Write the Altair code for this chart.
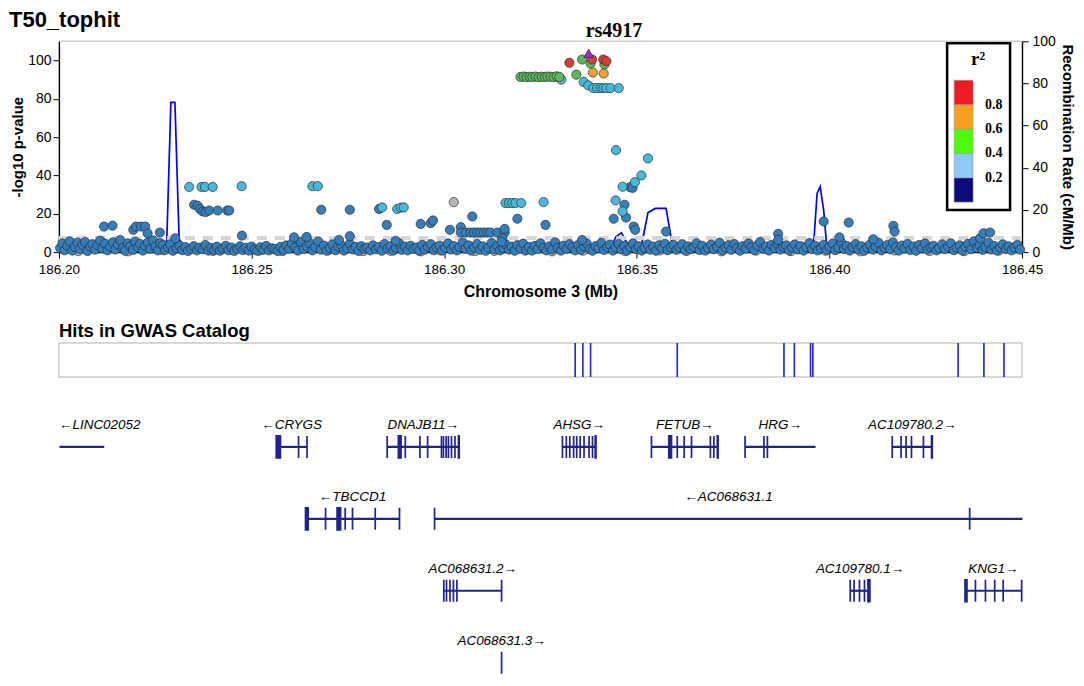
import altair as alt
import pandas as pd

START, END = 186.20, 186.45
SANS = "Liberation Sans"
SERIF = "Liberation Serif"

# ---------------- association points: (kb offset from 186.20 Mb, -log10 p) -------------
base_pts = [
    (0.3,2.1),(0.9,4.5),(1.5,1.0),(2.2,3.2),(2.8,5.6),(3.5,0.8),(4.1,2.6),(4.8,4.9),(5.4,1.6),(6.1,3.8),(6.8,5.2),(7.4,0.6),(8.1,2.9),(8.7,4.1),(9.4,1.3),
    (10.0,3.5),(10.7,6.0),(11.3,1.9),(12.0,4.4),(12.6,0.9),(13.3,2.7),(14.0,5.1),(14.6,1.4),(15.3,3.9),(15.9,6.3),(16.6,2.2),(17.2,0.7),(17.9,4.6),(18.5,3.0),(19.2,1.1),(19.8,5.4),
    (20.5,2.4),(21.1,4.2),(21.8,0.8),(22.4,3.3),(23.1,5.0),(23.7,1.7),(24.4,6.1),(25.0,2.9),(25.7,0.9),(26.3,4.7),(27.0,3.6),(27.6,1.2),(28.3,2.5),(28.9,4.0),(29.6,0.7),
    (30.5,2.0),(31.3,3.4),(32.0,1.0),(32.8,2.6),(33.5,0.6),(34.3,1.8),(35.0,3.1),(35.8,0.9),(36.5,2.3),(37.3,1.5),(38.0,3.7),(38.8,0.8),(39.5,2.1),
    (40.3,1.2),(41.0,2.8),(41.8,0.7),(42.5,1.9),(43.3,3.3),(44.0,1.0),(44.8,2.4),(45.5,0.6),(46.3,1.7),(47.0,3.0),(47.8,1.1),(48.5,2.2),(49.3,0.8),
    (50.0,2.9),(50.8,1.4),(51.5,0.7),(52.3,2.5),(53.0,1.2),(53.8,3.2),(54.5,0.9),(55.3,2.0),(56.0,1.5),(56.8,0.6),(57.5,2.7),(58.3,1.1),(59.0,3.5),(59.8,1.8),
    (60.5,4.4),(61.3,2.3),(62.0,0.8),(62.8,5.2),(63.5,1.6),(64.3,3.0),(65.0,4.8),(65.8,0.9),(66.5,2.6),(67.3,5.5),(68.0,1.3),(68.8,3.4),(69.5,0.7),
    (70.3,2.1),(71.0,4.0),(71.8,1.0),(72.5,2.8),(73.3,3.6),(74.0,0.8),(74.8,2.0),(75.5,4.3),(76.3,1.4),(77.0,2.7),(77.8,0.6),(78.5,3.1),(79.3,1.7),
    (80.0,2.4),(80.8,0.9),(81.5,3.5),(82.3,1.5),(83.0,2.6),(83.8,0.7),(84.5,4.2),(85.3,1.9),(86.0,3.0),(86.8,0.8),(87.5,2.2),(88.3,4.6),(89.0,1.2),(89.8,2.9),
    (90.5,0.9),(91.3,3.3),(92.0,1.6),(92.8,2.4),(93.5,0.7),(94.3,3.8),(95.0,1.3),(95.8,2.7),(96.5,4.1),(97.3,1.0),(98.0,2.5),(98.8,3.4),(99.5,0.8),
    (100.3,2.2),(101.0,4.5),(101.8,1.4),(102.5,3.1),(103.3,0.9),(104.0,2.6),(104.8,5.0),(105.5,1.7),(106.3,3.5),(107.0,0.8),(107.8,2.3),(108.5,4.2),(109.3,1.2),
    (110.0,3.0),(110.8,0.7),(111.5,2.4),(112.3,4.7),(113.0,1.5),(113.8,3.3),(114.5,0.9),(115.3,2.1),(116.0,4.0),(116.8,1.3),(117.5,2.8),(118.3,0.7),(119.0,3.6),(119.8,1.9),
    (120.5,4.4),(121.3,1.1),(122.0,2.7),(122.8,0.8),(123.5,3.2),(124.3,1.6),(125.0,4.6),(125.8,2.3),(126.5,0.9),(127.3,3.0),(128.0,1.4),(128.8,5.1),(129.5,2.2),
    (130.3,0.8),(131.0,3.4),(131.8,1.7),(132.5,4.1),(133.3,2.5),(134.0,0.9),(134.8,3.7),(135.5,1.2),(136.3,2.9),(137.0,4.4),(137.8,1.5),(138.5,0.7),(139.3,3.1),
    (140.0,2.0),(140.8,4.8),(141.5,1.1),(142.3,2.6),(143.0,3.9),(143.8,0.8),(144.5,2.3),(145.3,4.2),(146.0,1.4),(146.8,3.2),(147.5,0.9),(148.3,2.5),(149.0,4.5),(149.8,1.6),
    (150.5,3.0),(151.3,0.8),(152.0,2.2),(152.8,4.0),(153.5,1.3),(154.3,2.9),(155.0,0.7),(155.8,3.6),(156.5,1.9),(157.3,4.3),(158.0,1.0),(158.8,2.6),(159.5,3.8),
    (160.3,1.2),(161.0,2.4),(161.8,4.1),(162.5,0.9),(163.3,3.0),(164.0,1.6),(164.8,2.7),(165.5,4.6),(166.3,1.1),(167.0,3.3),(167.8,0.8),(168.5,2.2),(169.3,3.9),
    (170.0,1.5),(170.8,2.8),(171.5,4.9),(172.3,0.9),(173.0,2.5),(173.8,3.6),(174.5,1.2),(175.3,4.2),(176.0,2.0),(176.8,0.7),(177.5,3.1),(178.3,1.8),(179.0,4.5),(179.8,2.6),
    (180.5,1.0),(181.3,3.4),(182.0,5.3),(182.8,1.7),(183.5,2.9),(184.3,0.8),(185.0,3.8),(185.8,2.1),(186.5,4.4),(187.3,1.3),(188.0,2.7),(188.8,3.5),(189.5,0.9),
    (190.3,2.3),(191.0,4.0),(191.8,1.4),(192.5,3.1),(193.3,0.8),(194.0,2.6),(194.8,4.7),(195.5,1.6),(196.3,3.3),(197.0,0.9),(197.8,2.0),(198.5,3.8),(199.3,1.2),
    (200.0,2.8),(200.8,4.4),(201.5,1.0),(202.3,2.3),(203.0,5.2),(203.8,1.7),(204.5,3.2),(205.3,0.8),(206.0,2.6),(206.8,4.1),(207.5,1.4),(208.3,3.0),(209.0,0.7),(209.8,2.4),
    (210.5,3.9),(211.3,1.3),(212.0,2.7),(212.8,4.8),(213.5,0.9),(214.3,2.2),(215.0,3.6),(215.8,1.5),(216.5,5.0),(217.3,2.6),(218.0,0.8),(218.8,3.4),(219.5,1.9),
    (220.3,4.2),(221.0,1.1),(221.8,2.9),(222.5,0.7),(223.3,3.7),(224.0,2.0),(224.8,4.5),(225.5,1.3),(226.3,2.5),(227.0,3.3),(227.8,0.9),(228.5,2.1),(229.3,4.0),
    (230.0,1.6),(230.8,2.8),(231.5,4.6),(232.3,1.0),(233.0,2.4),(233.8,3.5),(234.5,0.8),(235.3,2.9),(236.0,4.3),(236.8,1.5),(237.5,5.6),(238.3,2.2),(239.0,3.7),(239.8,1.2),
    (240.5,2.6),(241.3,4.9),(242.0,1.4),(242.8,3.2),(243.5,0.8),(244.3,2.3),(245.0,4.0),(245.8,1.7),(246.5,3.0),(247.3,0.9),(248.0,2.5),(248.8,3.8),(249.5,1.3),
]
gray_base = [
    (5.0,0.5),(18.0,0.4),(27.0,1.0),(40.0,0.6),(52.0,0.8),(58.0,0.5),(70.0,1.0),(79.0,0.5),(86.0,0.7),(94.0,0.4),
    (99.0,0.9),(108.0,0.5),(113.0,0.6),(121.0,0.8),(128.0,0.4),(136.0,0.7),(147.0,0.5),(156.0,0.9),(163.0,0.6),
    (172.0,0.4),(181.0,0.8),(190.0,0.5),(199.0,0.7),(208.0,0.4),(217.0,0.9),(226.0,0.6),(235.0,0.5),(244.0,0.8),
]
blue_pts = [
    (11.7,13.3),(13.9,13.8),(19.3,11.6),(20.0,13.3),(21.3,13.3),(22.4,13.3),(23.0,9.8),(26.2,10.2),(30.2,7.2),
    (35.1,24.7),(36.0,24.2),(36.6,22.5),(37.3,21.2),(38.1,20.9),(39.0,21.7),(41.2,21.7),(43.7,21.7),(44.2,21.7),
    (47.5,8.6),(61.0,7.7),(64.3,7.9),(68.1,22.1),(75.5,22.1),(75.5,8.3),(72.7,6.3),(83.1,22.5),(85.1,14.2),(87.4,5.9),
    (93.9,14.7),(96.5,15.1),(97.1,16.5),(101.5,11.6),(104.3,13.0),(104.3,10.2),(105.6,10.2),(106.8,10.2),(107.7,10.2),
    (108.6,10.2),(109.4,10.2),(110.3,10.2),(111.2,10.2),(112.0,10.2),(113.8,10.2),(115.7,10.2),(107.3,18.6),(115.7,12.1),
    (115.1,7.2),(114.9,5.4),(119.0,17.4),(126.3,14.2),(135.8,6.3),(144.0,17.4),(146.8,24.7),(147.2,18.0),(148.3,33.9),
    (148.9,33.5),(149.2,13.3),(149.6,11.6),(157.6,10.7),(186.7,9.5),(186.7,6.3),(198.5,16.0),(202.6,7.7),(205.0,15.4),
    (211.4,6.7),(216.6,13.7),(216.9,10.7),(239.1,7.2),(240.0,9.8),(241.7,10.2),
]
gray_pts = [(102.5,26.1)]
lblue_pts = [
    (33.8,34.0),(37.0,34.0),(37.9,34.0),(39.9,34.0),(47.4,34.4),(65.8,34.4),(67.2,34.4),(83.9,23.3),(87.8,22.5),
    (88.7,23.2),(89.5,23.3),(115.9,25.6),(116.8,25.6),(117.7,25.6),(118.5,25.6),(120.0,25.6),(125.8,26.1),
    (144.6,53.2),(152.9,48.9),(151.2,40.0),(149.5,36.5),(146.3,34.1),(144.5,27.0),(146.3,21.2),
    (130.4,90.0),(136.2,88.8),(137.4,87.0),(138.7,85.6),(139.7,85.6),(140.6,85.6),(141.3,85.6),(142.1,85.6),
    (143.2,85.6),(145.3,85.6),
]
green_pts = [
    (119.8,91.4),(120.6,91.6),(121.4,91.3),(122.2,91.5),(122.9,91.4),(123.7,91.6),(124.5,91.3),(125.3,91.5),
    (126.1,91.4),(126.8,91.6),(127.6,91.5),(128.4,91.3),(129.2,91.7),(129.9,91.4),(134.3,92.6),(135.8,100.5),
    (138.0,98.4),(141.6,97.9),
]
orange_pts = [(138.6,93.7),(141.4,93.2)]
red_pts = [(132.5,98.8),(138.4,100.5),(141.3,100.5),(142.1,99.6)]
lead_snp = ["rs4917"]
lead_pt = [(137.5,103.7)]

# recombination rate (kb offset, cM/Mb)
recomb_pts = [
    (0,0.8),(10,1.2),(20,0.9),(27.5,1.5),(28.0,6.0),(29.05,71.0),(30.1,71.0),(31.2,6.0),(32.3,3.3),(34,1.0),
    (50,0.6),(70,0.9),(90,1.1),(110,0.7),(130,1.0),(143,1.5),(144.6,7.3),(146.0,9.2),(147.0,5.7),(148.4,2.0),
    (150,2.0),(151.4,4.9),(152.9,18.7),(154.8,20.7),(157.6,20.7),(159.0,5.7),(160.5,1.5),(175,0.8),(190,1.0),
    (195.8,1.2),(196.8,27.8),(197.6,31.0),(198.5,19.9),(199.2,4.9),(200.2,1.0),(220,0.7),(240,1.0),(250,0.8),
]

# GWAS catalog hits (kb offset)
gwas_kb = [134.0, 136.0, 138.0, 160.5, 188.2, 190.9, 195.1, 195.7, 233.4, 240.1, 245.3]

# genes: name, strand, row, start kb, end kb, exons [(start, end)]
genes = [
    ("LINC02052", "-", 0, 0.13, 11.75, []),
    ("CRYGS", "-", 0, 56.4, 64.4, [(56.4,57.5),(62.2,62.2),(64.4,64.4)]),
    ("DNAJB11", "+", 0, 85.2, 103.9, [(85.2,85.2),(88.1,88.8),(89.9,89.9),(93.7,93.7),(95.7,95.7),(99.3,99.3),(99.8,99.8),
                                      (100.5,100.5),(101.1,101.1),(101.9,101.9),(102.8,102.8),(103.7,103.9)]),
    ("AHSG", "+", 0, 130.7, 139.4, [(130.7,130.7),(131.7,131.7),(132.6,132.6),(133.6,133.6),(134.4,134.4),(135.3,135.3),
                                    (136.3,136.3),(137.6,137.6),(138.5,138.5),(139.2,139.4)]),
    ("FETUB", "+", 0, 153.8, 171.1, [(153.8,153.8),(158.3,159.0),(160.5,160.5),(162.3,162.3),(164.2,164.2),(169.1,169.1),
                                     (170.0,170.0),(170.9,171.1)]),
    ("HRG", "+", 0, 178.1, 196.4, [(178.1,178.1),(183.0,183.0),(183.9,183.9)]),
    ("AC109780.2", "+", 0, 216.3, 226.7, [(216.3,216.3),(218.6,218.6),(219.9,219.9),(221.3,221.3),(224.4,224.4),(226.5,226.7)]),
    ("TBCCD1", "-", 1, 64.0, 88.4, [(64.0,64.7),(69.2,69.2),(72.2,73.1),(74.3,74.3),(76.2,76.2),(82.1,82.1),(88.4,88.4)]),
    ("AC068631.1", "-", 1, 97.5, 250.1, [(97.5,97.5),(236.4,236.4)]),
    ("AC068631.2", "+", 2, 99.9, 114.9, [(99.9,99.9),(100.6,100.6),(101.5,101.5),(102.4,102.4),(103.3,103.3),(114.9,114.9)]),
    ("AC109780.1", "+", 2, 205.4, 210.5, [(205.4,205.4),(206.4,206.4),(207.8,207.8),(209.1,209.1),(210.0,210.5)]),
    ("KNG1", "+", 2, 235.2, 249.9, [(235.2,235.7),(237.9,237.9),(240.5,240.5),(242.9,242.9),(245.1,245.1),(249.9,249.9)]),
    ("AC068631.3", "+", 3, 114.9, 114.9, [(114.9,114.9)]),
]

# ---------------- styles ----------------
PT_COLORS = {"gray": "#b8b8b8", "blue": "#357ebd", "lblue": "#46b8da", "green": "#5cb85c",
             "orange": "#eea236", "red": "#d43f3a"}
R2_MID = {"gray": 0.1, "blue": 0.1, "lblue": 0.3, "green": 0.5, "orange": 0.7, "red": 0.9}
LEGEND_COLORS = ["#0c0a7a", "#8ecaf5", "#4cfc0c", "#f5a020", "#ec1c24"]
GENE = "#23238e"
GWAS = "#2323cc"
PX_PER_MB = 964 / (END - START)


def mb(kb):
    return START + kb / 1000.0


rows = []
for cls, pts in [("gray", gray_base), ("blue", base_pts), ("blue", blue_pts), ("gray", gray_pts),
                 ("lblue", lblue_pts), ("green", green_pts), ("orange", orange_pts), ("red", red_pts)]:
    for kb, lp in pts:
        rows.append({"pos": mb(kb), "logp": lp, "cls": cls, "r2": R2_MID[cls]})
pts_df = pd.DataFrame(rows)
lead_df = pd.DataFrame({"pos": [mb(k) for k, _ in lead_pt], "logp": [v for _, v in lead_pt], "snp": lead_snp})
rec_df = pd.DataFrame({"pos": [mb(k) for k, _ in recomb_pts], "rate": [v for _, v in recomb_pts]})
gwas_df = pd.DataFrame({"pos": [mb(k) for k in gwas_kb]})
title_df = pd.DataFrame({"t": ["T50_tophit"]})

gene_rows, exon_rows = [], []
for name, strand, row, s, e, exons in genes:
    label = ("\u2190" + name) if strand == "-" else (name + "\u2192")
    mid = mb((s + e) / 2)
    half_px = len(label) * 0.58 * 13.5 / 2
    clamp = bool((mid - START) * PX_PER_MB < half_px)
    gene_rows.append({"start": mb(s), "end": mb(e), "row": row, "label": label,
                      "lx": START if clamp else mid, "clamp": clamp})
    for a, b in exons:
        exon_rows.append({"s": mb(a), "e": mb(b), "row": row})
genes_df = pd.DataFrame(gene_rows)
exons_df = pd.DataFrame(exon_rows)

# ---------------- top panel ----------------
xscale = alt.Scale(domain=[START, END], nice=False, zero=False)
X = alt.X("pos:Q", scale=xscale,
          axis=alt.Axis(values=[186.20, 186.25, 186.30, 186.35, 186.40, 186.45], format=".2f",
                        title="Chromosome 3 (Mb)", labelFontSize=13.5, titleFontSize=16, titleFontWeight="bold",
                        tickSize=6, tickColor="black", domainColor="black", domainWidth=1.3, labelPadding=4,
                        titlePadding=8, labelColor="black", titleColor="black", labelFlush=False, grid=False))
Y = alt.Y("logp:Q", scale=alt.Scale(domain=[0, 110], nice=False, zero=True),
          axis=alt.Axis(values=[0, 20, 40, 60, 80, 100], title="-log10 p-value", orient="left",
                        labelFontSize=14, titleFontSize=15, titleFontWeight="bold", tickSize=6, tickColor="black",
                        domainColor="black", domainWidth=1.3, labelPadding=2, titlePadding=2,
                        labelColor="black", titleColor="black", grid=False))

recomb = alt.Chart(rec_df).mark_line(color="#0000ff", strokeWidth=1.7).encode(
    x=X,
    y=alt.Y("rate:Q", scale=alt.Scale(domain=[0, 100], nice=False),
            axis=alt.Axis(values=[0, 20, 40, 60, 80, 100], title="Recombination Rate (cM/Mb)", orient="right",
                          labelFontSize=14, titleFontSize=15, titleFontWeight="bold", tickSize=6,
                          tickColor="black", domainColor="black", domainWidth=1.3, labelPadding=4,
                          titlePadding=4, labelColor="black", titleColor="black", grid=False)),
)

sig = alt.Chart(pd.DataFrame({"logp": [7.3]})).mark_rule(
    color="#d6d6d6", strokeWidth=4, strokeDash=[10, 8]).encode(y=Y)

points = alt.Chart(pts_df).mark_circle(size=85, opacity=1, stroke="#2a2a2a", strokeWidth=0.9,
                                        strokeOpacity=0.75).encode(
    x=X, y=Y,
    fill=alt.Fill("cls:N", scale=alt.Scale(domain=list(PT_COLORS.keys()), range=list(PT_COLORS.values())),
                  legend=None),
)

lead = alt.Chart(lead_df).mark_point(shape="triangle-up", filled=True, size=95, fill="#9632b8",
                                     stroke="#5a1a70", strokeWidth=0.8, opacity=1).encode(x=X, y=Y)

lead_label = alt.Chart(lead_df).mark_text(font=SERIF, fontSize=20, fontWeight="bold", align="left",
                                          baseline="alphabetic", dx=-3, color="black").encode(
    x=X, y=alt.value(-4), text="snp:N")

title_txt = alt.Chart(title_df).mark_text(font=SANS, fontSize=22, fontWeight="bold", align="left",
                                          baseline="top", color="black").encode(
    x=alt.value(-50), y=alt.value(-31), text="t:N")

legend_layer = alt.Chart(pts_df).mark_point(opacity=0).encode(
    x=X, y=Y,
    color=alt.Color("r2:Q",
                    scale=alt.Scale(type="threshold", domain=[0.2, 0.4, 0.6, 0.8], range=LEGEND_COLORS),
                    legend=alt.Legend(type="gradient", orient="none", legendX=889, legendY=2,
                                      direction="vertical", title="r\u00b2", titleFont=SERIF, titleFontSize=19,
                                      titleFontWeight="bold", titleColor="black", titleAnchor="middle",
                                      titleAlign="center", titlePadding=11, gradientLength=122,
                                      gradientThickness=19, gradientStrokeColor="#999999",
                                      gradientStrokeWidth=0.5, labelFont=SERIF, labelFontSize=14,
                                      labelFontWeight="bold", labelColor="black", labelOffset=12,
                                      padding=7, fillColor="white", strokeColor="black")),
)

inner = alt.layer(sig, points, lead, lead_label, title_txt, legend_layer)
top = alt.layer(recomb, inner).resolve_scale(y="independent").properties(width=964, height=211)

# ---------------- GWAS catalog panel ----------------
gwas = alt.Chart(gwas_df).mark_rule(color=GWAS, strokeWidth=1.6).encode(
    x=alt.X("pos:Q", scale=xscale, axis=None)
).properties(width=964, height=34,
             title=alt.TitleParams("Hits in GWAS Catalog", anchor="start", font=SANS, fontSize=18.5,
                                   fontWeight="bold", color="black", offset=1.5))

# ---------------- genes panel ----------------
gy = alt.Y("row:Q", scale=alt.Scale(domain=[-0.6528, 3.1528], reverse=True, nice=False, zero=False), axis=None)
bodies = alt.Chart(genes_df).mark_rule(color=GENE, strokeWidth=2.2).encode(
    x=alt.X("start:Q", scale=xscale, axis=None), x2="end:Q", y=gy)
exons = alt.Chart(exons_df).mark_rect(color=GENE, stroke=GENE, strokeWidth=1.7, yOffset=-11, y2Offset=11).encode(
    x=alt.X("s:Q", scale=xscale, axis=None), x2="e:Q", y=gy, y2="row:Q")
labels_c = alt.Chart(genes_df).transform_filter("!datum.clamp").mark_text(
    font=SANS, fontSize=13.5, fontStyle="italic", align="center", dy=-22, color="black").encode(
    x=alt.X("lx:Q", scale=xscale, axis=None), y=gy, text="label:N")
labels_l = alt.Chart(genes_df).transform_filter("datum.clamp").mark_text(
    font=SANS, fontSize=13.5, fontStyle="italic", align="left", dy=-22, color="black").encode(
    x=alt.X("lx:Q", scale=xscale, axis=None), y=gy, text="label:N")
gene_panel = alt.layer(bodies, exons, labels_c, labels_l).properties(
    width=964, height=274, view=alt.ViewBackground(stroke="transparent"))

chart = alt.vconcat(top, gwas, gene_panel, spacing=20).properties(padding=0).configure_view(
    stroke="#cccccc", strokeWidth=1.5).configure_axis(labelFont=SANS, titleFont=SANS).configure_legend(
    strokeWidth=2.5)

chart.save("out.html", embed_options={"renderer": "svg", "actions": False})
